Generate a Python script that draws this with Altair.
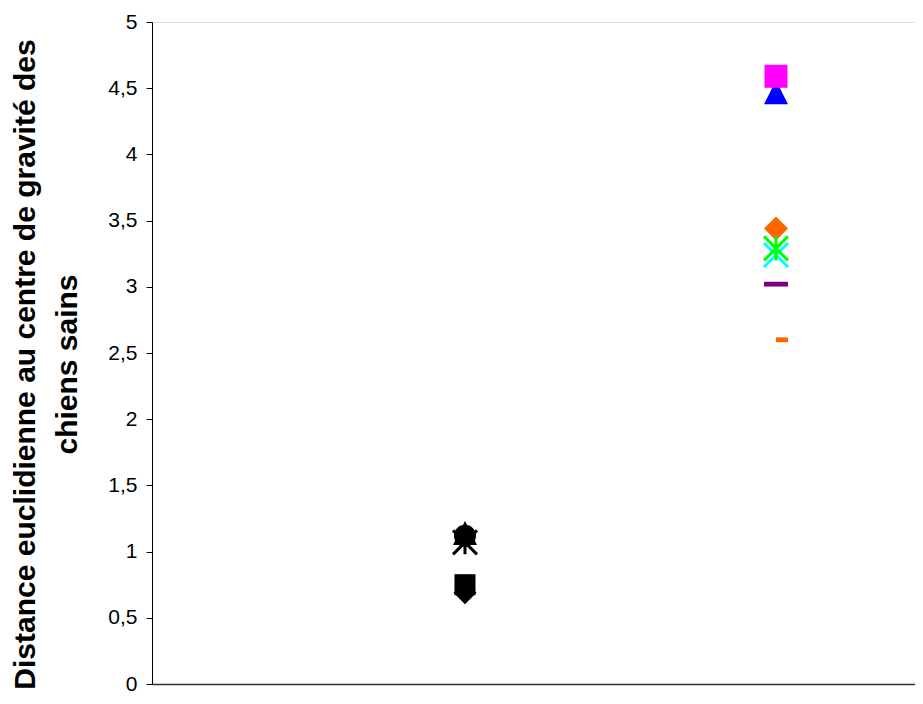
import altair as alt
import pandas as pd

# ---- data ----
groups = [1, 1, 1, 1, 1, 2, 2, 2, 2, 2, 2, 2]
values = [1.14, 1.12, 1.07, 0.75, 0.69, 4.47, 4.59, 3.44, 3.24, 3.29, 3.02, 2.60]
markers = ["triangle", "circle", "asterisk", "square", "diamond",
           "triangle", "square", "diamond", "cross", "asterisk", "dash", "smalldash"]
colors = ["#000000", "#000000", "#000000", "#000000", "#000000",
          "#0000FF", "#FF00FF", "#FF6600", "#00FFFF", "#00FF00", "#800080", "#FF6600"]
sizes = [576, 484, 576, 441, 529, 576, 529, 576, 576, 576, 576, 576]
y_ticks = [0, 0.5, 1, 1.5, 2, 2.5, 3, 3.5, 4, 4.5, 5]

shape_paths = {
    "triangle": "M0,-1L1,1L-1,1Z",
    "circle": "circle",
    "square": "M-1,-1L1,-1L1,1L-1,1Z",
    "diamond": "M0,-1L1,0L0,1L-1,0Z",
    "dash": "M-1,-0.2L1,-0.2L1,0.2L-1,0.2Z",
    "smalldash": "M0,-0.2L1,-0.2L1,0.2L0,0.2Z",
    "asterisk": "M0,-1L0,1M-1,-1L1,1M-1,1L1,-1",
    "cross": "M-1,-1L1,1M-1,1L1,-1",
}

df = pd.DataFrame({"g": groups, "v": values, "m": markers, "c": colors, "s": sizes})
df["order"] = range(len(df))
filled_kinds = ["triangle", "circle", "square", "diamond", "dash", "smalldash"]
stroke_kinds = ["asterisk", "cross"]

x_enc = alt.X("g:Q", scale=alt.Scale(domain=[-0.0064, 2.447], nice=False, zero=False),
              axis=alt.Axis(labels=False, ticks=False, grid=False, title=None,
                            domainColor="#333333", domainWidth=1.5))
y_enc = alt.Y("v:Q", scale=alt.Scale(domain=[0, 5], nice=False),
              axis=alt.Axis(values=y_ticks, format="~g",
                            labelExpr="replace(datum.label, '.', ',')",
                            grid=False, domainColor="#000000", tickColor="#000000",
                            tickSize=6, labelPadding=9, labelFontSize=21,
                            labelFont="Liberation Sans", labelColor="#000000",
                            title=["Distance euclidienne au centre de gravité des", "chiens sains"],
                            titleFont="Liberation Sans", titleFontSize=30,
                            titleFontWeight="bold", titleColor="#000000",
                            titleAngle=-90, titleAlign="center", titleBaseline="top",
                            titleX=-142, titleY=342, titleLineHeight=42))

base = alt.Chart(df)

filled = base.transform_filter(
    alt.FieldOneOfPredicate(field="m", oneOf=filled_kinds)
).mark_point(filled=True, opacity=1, strokeWidth=0).encode(
    x=x_enc, y=y_enc,
    shape=alt.Shape("m:N", scale=alt.Scale(domain=list(shape_paths.keys()),
                                           range=list(shape_paths.values())), legend=None),
    color=alt.Color("c:N", scale=None),
    size=alt.Size("s:Q", scale=None),
    order="order:Q",
)

stroked = base.transform_filter(
    alt.FieldOneOfPredicate(field="m", oneOf=stroke_kinds)
).mark_point(filled=False, opacity=1, strokeWidth=3).encode(
    x=x_enc, y=y_enc,
    shape=alt.Shape("m:N", scale=alt.Scale(domain=list(shape_paths.keys()),
                                           range=list(shape_paths.values())), legend=None),
    stroke=alt.Stroke("c:N", scale=None),
    size=alt.Size("s:Q", scale=None),
    order="order:Q",
)

chart = alt.layer(filled, stroked).properties(
    width=763, height=662,
    autosize=alt.AutoSizeParams(type="none"),
    padding={"left": 144, "top": 14, "right": 0, "bottom": 12},
).configure_view(stroke=None).configure(background="#ffffff")

chart.save("out.html", embed_options={"renderer": "svg", "actions": False})
